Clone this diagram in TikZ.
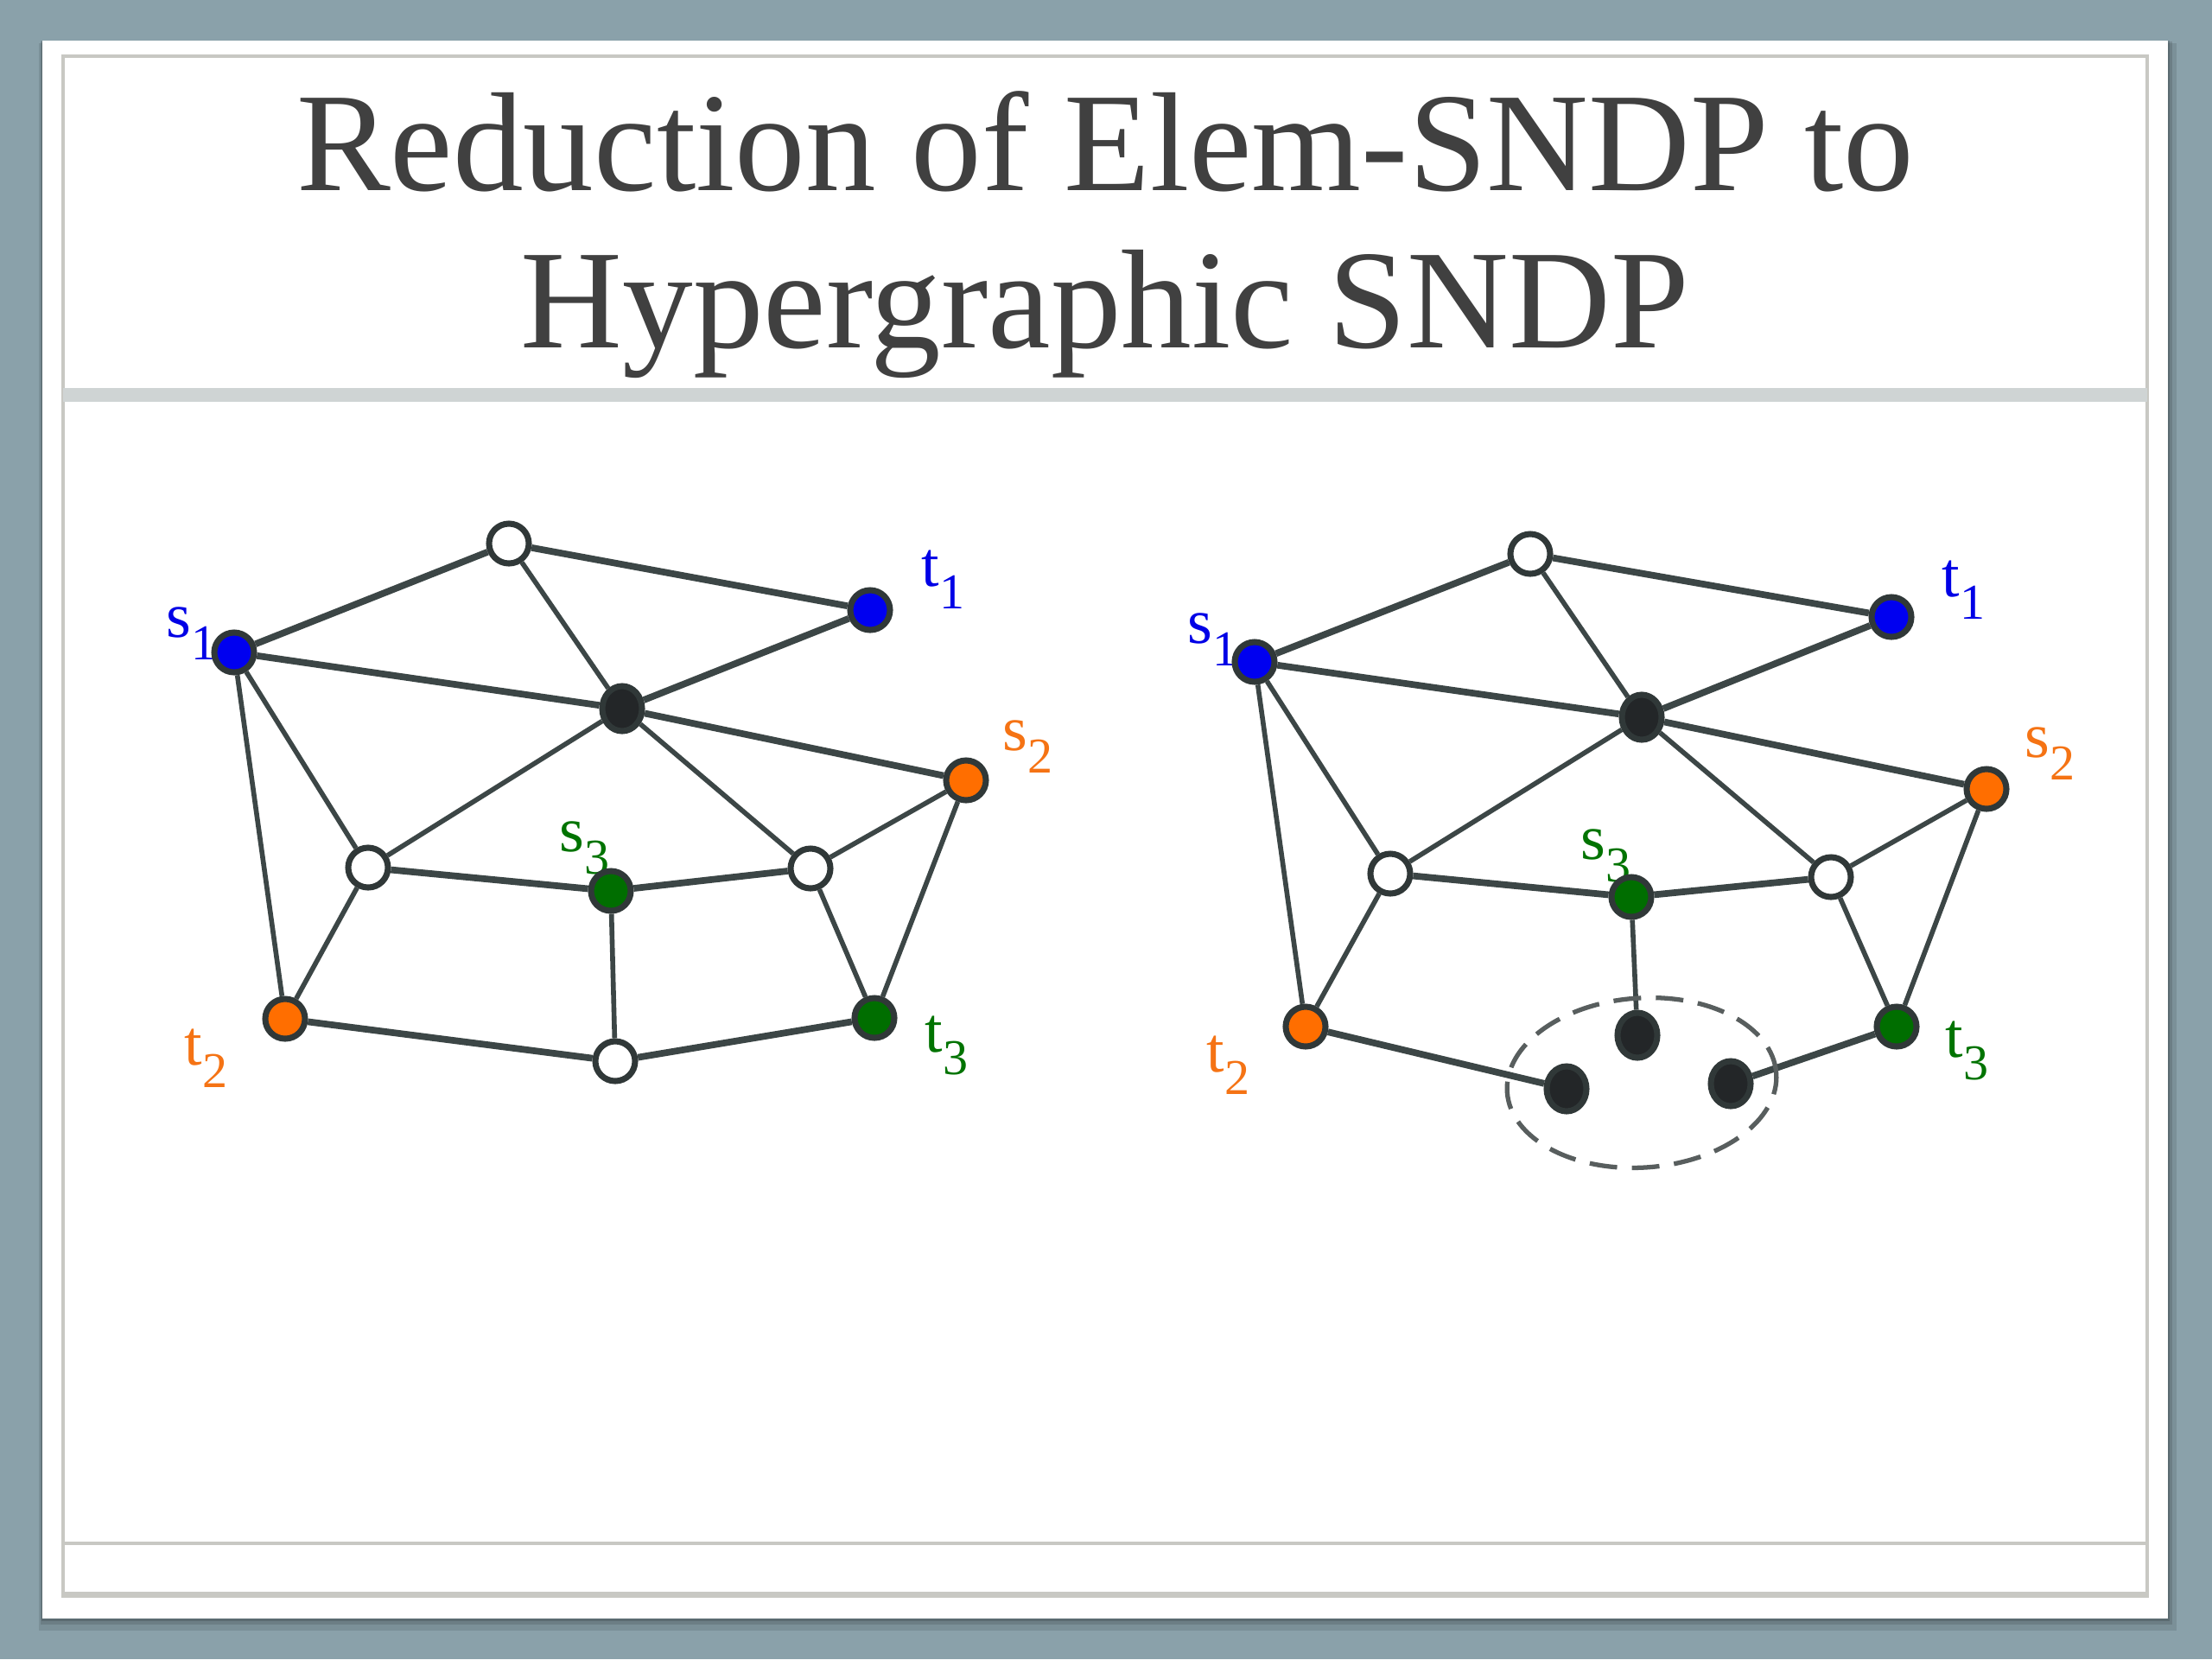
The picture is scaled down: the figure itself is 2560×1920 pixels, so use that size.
\documentclass[tikz,border=0pt]{standalone}
\usepackage{fontspec}
\setmainfont{Liberation Serif}
\usetikzlibrary{shapes.geometric}
\definecolor{bgc}{RGB}{138,161,170}
\definecolor{edgec}{RGB}{60,70,70}
\definecolor{ringc}{RGB}{48,56,56}
\definecolor{blueN}{RGB}{0,0,240}
\definecolor{orangeN}{RGB}{255,110,0}
\definecolor{greenN}{RGB}{0,110,0}
\definecolor{blackN}{RGB}{35,38,40}
\definecolor{labBlue}{RGB}{0,0,230}
\definecolor{labOrange}{RGB}{245,115,20}
\definecolor{labGreen}{RGB}{0,115,0}
\definecolor{titlec}{RGB}{64,64,64}
\definecolor{framec}{RGB}{200,200,195}
\definecolor{barc}{RGB}{207,212,212}
\definecolor{hyperc}{RGB}{88,94,94}
\pgfdeclarelayer{bg}
\pgfdeclarelayer{edges}
\pgfsetlayers{bg,edges,main}
\newcommand{\lbl}[2]{#1\raisebox{-7.5pt}{\fontsize{16.5}{18}\selectfont #2}}
\begin{document}
\begin{tikzpicture}[x=0.01cm,y=-0.01cm,
  edge/.style={draw=edgec, line width=1.6pt},
  thk/.style={line width=2.2pt},
  vtx/.style={circle, draw=ringc, line width=2pt, minimum size=0.46cm, inner sep=0pt},
  wv/.style={vtx, fill=white},
  bv/.style={vtx, fill=blueN},
  ov/.style={vtx, fill=orangeN},
  gv/.style={vtx, fill=greenN},
  kv/.style={ellipse, draw=ringc, line width=2pt, fill=blackN, minimum width=0.46cm, minimum height=0.52cm, inner sep=0pt},
  lab/.style={anchor=base west, inner sep=0pt, font=\fontsize{21}{24}\selectfont},
  hyper/.style={draw=hyperc, line width=1.5pt, dash pattern=on 0.32cm off 0.17cm},
]
\useasboundingbox (0,0) rectangle (2560,1920);
\begin{pgfonlayer}{bg}
  \fill[bgc] (0,0) rectangle (2560,1920);
  \fill[black,opacity=0.10] (45,50) rectangle (2519,1887);
  \fill[black,opacity=0.12] (47,48) rectangle (2514,1880);
  \fill[black,opacity=0.15] (48,47) rectangle (2511,1876);
  \fill[white] (49,47) rectangle (2509,1873);
  \draw[framec, line width=0.9pt] (73,65) rectangle (2485,1847);
  \draw[framec, line width=0.9pt] (73,1844) -- (2485,1844);
  \fill[barc] (73,449) rectangle (2485,465);
  \draw[framec, line width=1.1pt] (73,1786) -- (2485,1786);
\end{pgfonlayer}

% title
\node[font=\fontsize{46.4}{50}\selectfont, text=titlec, anchor=base, inner sep=0pt] (title1) at (1279,220) {Reduction of Elem-SNDP to};
\node[font=\fontsize{46.4}{50}\selectfont, text=titlec, anchor=base, inner sep=0pt] (title2) at (1279,402) {Hypergraphic SNDP};

% ---------- left graph labels ----------
\node[lab, text=labBlue] (Lls1) at (192,737) {\lbl{s}{1}};
\node[lab, text=labBlue] (Llt1) at (1066,678) {\lbl{t}{1}};
\node[lab, text=labOrange] (Lls2) at (1160,868) {\lbl{s}{2}};
\node[lab, text=labGreen] (Lls3) at (647,985) {\lbl{s}{3}};
\node[lab, text=labOrange] (Llt2) at (213,1232) {\lbl{t}{2}};
\node[lab, text=labGreen] (Llt3) at (1070,1217) {\lbl{t}{3}};

% ---------- left graph nodes ----------
\node[wv] (Ltop) at (589,629) {};
\node[bv] (Lt1) at (1007,706) {};
\node[bv] (Ls1) at (271,755) {};
\node[kv] (Lc) at (720,820) {};
\node[ov] (Ls2) at (1118,903) {};
\node[wv] (Llw) at (426,1004) {};
\node[gv] (Ls3) at (707,1031) {};
\node[wv] (Lrw) at (938,1005) {};
\node[ov] (Lt2) at (330,1179) {};
\node[gv] (Lt3) at (1012,1178) {};
\node[wv] (Lbw) at (712,1228) {};

% ---------- right graph labels ----------
\node[lab, text=labBlue] (Rls1) at (1374,744) {\lbl{s}{1}};
\node[lab, text=labBlue] (Rlt1) at (2247,690) {\lbl{t}{1}};
\node[lab, text=labOrange] (Rls2) at (2343,876) {\lbl{s}{2}};
\node[lab, text=labGreen] (Rls3) at (1829,994) {\lbl{s}{3}};
\node[lab, text=labOrange] (Rlt2) at (1396,1240) {\lbl{t}{2}};
\node[lab, text=labGreen] (Rlt3) at (2251,1223) {\lbl{t}{3}};

% ---------- right graph nodes ----------
\node[wv] (Rtop) at (1771,641) {};
\node[bv] (Rt1) at (2189,714) {};
\node[bv] (Rs1) at (1452,766) {};
\node[kv] (Rc) at (1900,830) {};
\node[ov] (Rs2) at (2299,913) {};
\node[wv] (Rlw) at (1609,1011) {};
\node[gv] (Rs3) at (1888,1038) {};
\node[wv] (Rrw) at (2119,1015) {};
\node[ov] (Rt2) at (1511,1188) {};
\node[gv] (Rt3) at (2195,1188) {};
\node[kv] (Rh1) at (1895,1198) {};
\node[kv] (Rh2) at (1813,1260) {};
\node[kv] (Rh3) at (2003,1254) {};

\begin{pgfonlayer}{edges}
  % left
  \draw[edge,thk] (Ls1) -- (Ltop);
  \draw[edge,thk] (Ltop) -- (Lt1);
  \draw[edge] (Ltop) -- (Lc);
  \draw[edge,thk] (Lt1) -- (Lc);
  \draw[edge,thk] (Ls1) -- (Lc);
  \draw[edge,thk] (Lc) -- (Ls2);
  \draw[edge] (Lc) -- (Llw);
  \draw[edge] (Lc) -- (Lrw);
  \draw[edge] (Ls1) -- (Llw);
  \draw[edge] (Ls1) -- (Lt2);
  \draw[edge] (Llw) -- (Lt2);
  \draw[edge,thk] (Llw) -- (Ls3);
  \draw[edge,thk] (Ls3) -- (Lrw);
  \draw[edge] (Lrw) -- (Ls2);
  \draw[edge] (Lrw) -- (Lt3);
  \draw[edge] (Ls2) -- (Lt3);
  \draw[edge] (Ls3) -- (Lbw);
  \draw[edge,thk] (Lt2) -- (Lbw);
  \draw[edge,thk] (Lbw) -- (Lt3);
  % right
  \draw[edge,thk] (Rs1) -- (Rtop);
  \draw[edge,thk] (Rtop) -- (Rt1);
  \draw[edge] (Rtop) -- (Rc);
  \draw[edge,thk] (Rt1) -- (Rc);
  \draw[edge,thk] (Rs1) -- (Rc);
  \draw[edge,thk] (Rc) -- (Rs2);
  \draw[edge] (Rc) -- (Rlw);
  \draw[edge] (Rc) -- (Rrw);
  \draw[edge] (Rs1) -- (Rlw);
  \draw[edge] (Rs1) -- (Rt2);
  \draw[edge] (Rlw) -- (Rt2);
  \draw[edge,thk] (Rlw) -- (Rs3);
  \draw[edge,thk] (Rs3) -- (Rrw);
  \draw[edge] (Rrw) -- (Rs2);
  \draw[edge] (Rrw) -- (Rt3);
  \draw[edge] (Rs2) -- (Rt3);
  \draw[edge] (Rs3) -- (Rh1);
  \draw[edge,thk] (Rt2) -- (Rh2);
  \draw[edge,thk] (Rh3) -- (Rt3);
  % hyperedge
  \draw[hyper, rotate around={4:(1900,1253)}] (1900,1253) ellipse [x radius=1.56cm, y radius=0.98cm];
\end{pgfonlayer}
\end{tikzpicture}
\end{document}
